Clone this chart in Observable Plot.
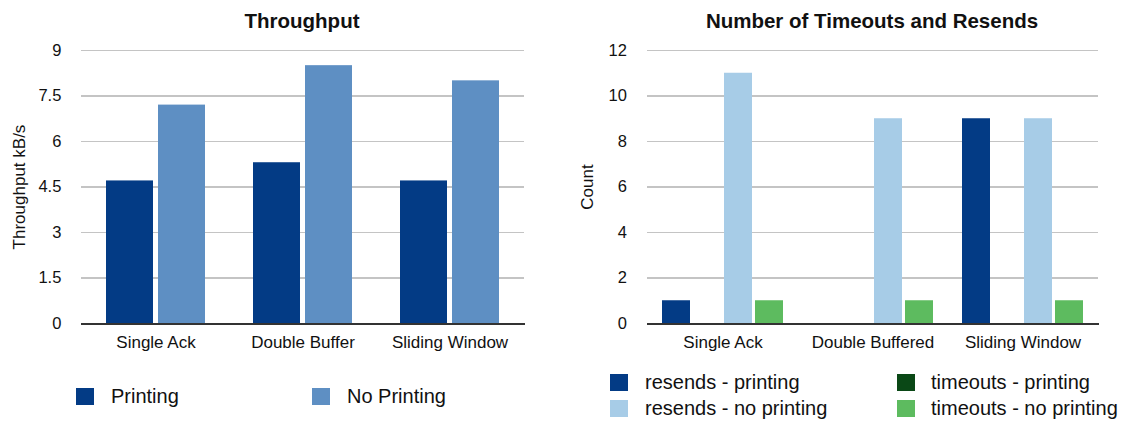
<!DOCTYPE html>
<html>
<head>
<meta charset="utf-8">
<script src="https://cdn.jsdelivr.net/npm/d3@7"></script>
<script src="https://cdn.jsdelivr.net/npm/@observablehq/plot@0.6"></script>
<style>
  body { margin: 0; background: #fff; font-family: "Liberation Sans", Arial, sans-serif; }
  #wrap { position: relative; width: 1139px; height: 421px; overflow: hidden; background: #fff; }
  .panel { position: absolute; top: 0; }
  .title { position: absolute; top: 11px; font-weight: bold; font-size: 20.5px; line-height: 20px;
           transform: translateX(-50%); white-space: nowrap; color: #111; }
  .ylab { position: absolute; font-size: 17px; line-height: 17px; white-space: nowrap; color: #111;
          transform: translate(-50%, -50%) rotate(-90deg); }
  .leg { position: absolute; font-size: 20px; line-height: 18px; display: flex; align-items: center;
         white-space: nowrap; color: #111; }
  .sw { width: 18px; height: 17px; flex: none; }
</style>
</head>
<body>
<div id="wrap"></div>
<script>
// ---- Data: left chart (Throughput) ----
const leftCategories = ["Single Ack", "Double Buffer", "Sliding Window"];
const leftSeries = ["Printing", "No Printing"];
const throughputPrinting = [4.7, 5.3, 4.7];
const throughputNoPrinting = [7.2, 8.5, 8.0];
const leftTicks = [0, 1.5, 3, 4.5, 6, 7.5, 9];
const leftColors = ["#033b85", "#5e8fc3"];

// ---- Data: right chart (Timeouts and Resends) ----
const rightCategories = ["Single Ack", "Double Buffered", "Sliding Window"];
const rightSeries = ["resends - printing", "timeouts - printing", "resends - no printing", "timeouts - no printing"];
const resendsPrinting = [1, 0, 9];
const timeoutsPrinting = [0, 0, 0];
const resendsNoPrinting = [11, 9, 9];
const timeoutsNoPrinting = [1, 1, 1];
const rightTicks = [0, 2, 4, 6, 8, 10, 12];
const rightColors = ["#033b85", "#0a4816", "#a7cce7", "#5dbb5f"];

const leftRows = leftCategories.flatMap((c, i) => [
  {cat: c, series: leftSeries[0], value: throughputPrinting[i]},
  {cat: c, series: leftSeries[1], value: throughputNoPrinting[i]}
]);
const rightValues = [resendsPrinting, timeoutsPrinting, resendsNoPrinting, timeoutsNoPrinting];
const rightRows = rightCategories.flatMap((c, i) =>
  rightSeries.map((s, j) => ({cat: c, series: s, value: rightValues[j][i]})));

function chart({rows, cats, series, colors, ticks, ymax, width, mL, mR, fxPad, xPad}) {
  const step = (width - mL - mR) / cats.length;
  const outer = fxPad / 2 * step;      // gap between the frame edge and the first group
  const ext = -outer - 0.5;            // extend per-facet rules across the gaps between groups
  return Plot.plot({
    width, height: 360,
    marginTop: 50, marginBottom: 37, marginLeft: mL, marginRight: mR,
    style: {fontFamily: "Liberation Sans, Arial, sans-serif", color: "#111", background: "white"},
    fx: {domain: cats, paddingInner: fxPad, paddingOuter: fxPad / 2, label: null},
    x: {domain: series, paddingInner: xPad, paddingOuter: 0, axis: null},
    y: {domain: [0, ymax]},
    color: {domain: series, range: colors},
    marks: [
      Plot.ruleY(ticks.filter(d => d > 0), {stroke: "#c4c4c4", strokeWidth: 1.3, insetLeft: ext, insetRight: ext, shapeRendering: "crispEdges"}),
      Plot.barY(rows, {fx: "cat", x: "series", y: "value", fill: "series"}),
      Plot.ruleY([0], {stroke: "#333", strokeWidth: 2, insetLeft: ext, insetRight: ext - 1, shapeRendering: "crispEdges"}),
      Plot.axisY({ticks, tickSize: 0, tickPadding: 21 + outer, tickFormat: d => String(d), fontSize: 16.5, label: null}),
      Plot.axisFx({anchor: "bottom", tickSize: 0, tickPadding: 12, fontSize: 17, label: null})
    ]
  });
}

const wrap = document.getElementById("wrap");

const left = chart({rows: leftRows, cats: leftCategories, series: leftSeries, colors: leftColors,
  ticks: leftTicks, ymax: 9, width: 560, mL: 81, mR: 37, fxPad: 0.328, xPad: 0.1});
left.classList.add("panel"); left.style.left = "0px";
wrap.appendChild(left);

const right = chart({rows: rightRows, cats: rightCategories, series: rightSeries, colors: rightColors,
  ticks: rightTicks, ymax: 12, width: 579, mL: 87, mR: 41, fxPad: 0.182, xPad: 0.11});
right.classList.add("panel"); right.style.left = "560px";
wrap.appendChild(right);

function addDiv(cls, text, x, y) {
  const d = document.createElement("div");
  d.className = cls; d.textContent = text; d.style.left = x + "px";
  if (y != null) d.style.top = y + "px";
  wrap.appendChild(d);
}
addDiv("title", "Throughput", 302);
addDiv("title", "Number of Timeouts and Resends", 872);
addDiv("ylab", "Throughput kB/s", 19, 187);
addDiv("ylab", "Count", 587, 187);

function addLegend(label, color, x, y, gap) {
  const d = document.createElement("div");
  d.className = "leg"; d.style.left = x + "px"; d.style.top = y + "px";
  const sw = document.createElement("div");
  sw.className = "sw"; sw.style.background = color; sw.style.marginRight = gap + "px";
  const t = document.createElement("span"); t.textContent = label;
  d.appendChild(sw); d.appendChild(t);
  wrap.appendChild(d);
}
addLegend(leftSeries[0], leftColors[0], 76, 387, 17);
addLegend(leftSeries[1], leftColors[1], 312, 387, 17);
addLegend(rightSeries[0], rightColors[0], 610, 373, 17);
addLegend(rightSeries[2], rightColors[2], 610, 399, 17);
addLegend(rightSeries[1], rightColors[1], 897, 373, 16);
addLegend(rightSeries[3], rightColors[3], 897, 399, 16);
</script>
</body>
</html>
